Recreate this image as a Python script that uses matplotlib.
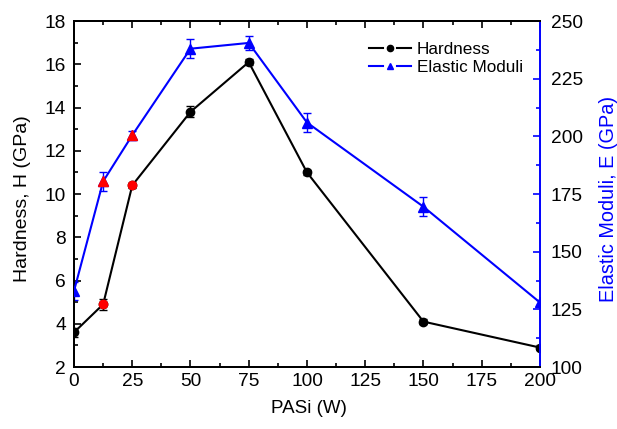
import matplotlib
matplotlib.use("Agg")
import matplotlib.pyplot as plt
from matplotlib.lines import Line2D
from matplotlib.legend_handler import HandlerBase
from matplotlib.ticker import MultipleLocator

plt.rcParams['font.family'] = ['Liberation Sans', 'DejaVu Sans']

power = [0, 12.5, 25, 50, 75, 100, 150, 200]
hardness = [3.6, 4.9, 10.4, 13.8, 16.1, 11.0, 4.1, 2.9]
hardness_err = [0.2, 0.25, 0.1, 0.25, 0.15, 0.1, 0.12, 0.1]
modulus = [133, 180.5, 200.5, 238, 240.5, 206, 169.5, 128]
modulus_err = [4, 4, 2, 4, 3, 4, 4, 1]
highlight = [12.5, 25]

fig = plt.figure(figsize=(6.17, 4.29), dpi=100)
ax = fig.add_axes([0.12, 0.1445, 0.755, 0.8065])
ax2 = ax.twinx()

h_line, = ax.plot(power, hardness, '-', color='black', lw=1.5, marker='o',
                  ms=6, zorder=3, label='Hardness')
ax.errorbar(power, hardness, yerr=hardness_err, fmt='none', ecolor='black',
            elinewidth=1.0, capsize=3, capthick=1.0, zorder=2)
e_line, = ax2.plot(power, modulus, '-', color='blue', lw=1.5, marker='^',
                   ms=7, zorder=3, label='Elastic Moduli')
ax2.errorbar(power, modulus, yerr=modulus_err, fmt='none', ecolor='blue',
             elinewidth=1.0, capsize=3, capthick=1.0, zorder=2)

# red markers for the highlighted power settings
hx = [p for p in power if p in highlight]
ax.plot(hx, [h for p, h in zip(power, hardness) if p in highlight], 'o',
        color='red', ms=6, zorder=4)
ax2.plot(hx, [m for p, m in zip(power, modulus) if p in highlight], '^',
         color='red', ms=7, zorder=4)

ax.set_xlim(0, 200)
ax.set_ylim(2, 18)
ax2.set_ylim(100, 250)

ax.xaxis.set_major_locator(MultipleLocator(25))
ax.xaxis.set_minor_locator(MultipleLocator(12.5))
ax.yaxis.set_major_locator(MultipleLocator(2))
ax.yaxis.set_minor_locator(MultipleLocator(1))
ax2.yaxis.set_major_locator(MultipleLocator(25))
ax2.yaxis.set_minor_locator(MultipleLocator(12.5))

ax.tick_params(axis='both', which='both', direction='in', labelsize=13.8,
               top=True, width=1.2)
ax.tick_params(axis='both', which='major', length=5)
ax.tick_params(axis='both', which='minor', length=3)
ax.tick_params(axis='x', which='major', pad=4)
ax.tick_params(axis='y', which='both', right=False, pad=6)
ax2.tick_params(axis='y', which='both', direction='in', labelsize=13.8,
                color='blue', width=1.2, labelcolor='black', pad=8)
ax2.tick_params(axis='y', which='major', length=5)
ax2.tick_params(axis='y', which='minor', length=3)

for s in ('left', 'bottom', 'top'):
    ax.spines[s].set_linewidth(1.4)
    ax2.spines[s].set_linewidth(1.4)
ax2.spines['right'].set_color('blue')
ax2.spines['right'].set_linewidth(1.4)
ax.spines['right'].set_visible(False)

ax.set_xlabel('PASi (W)', fontsize=13.5)
ax.set_ylabel('Hardness, H (GPa)', fontsize=14)
ax2.set_ylabel('Elastic Moduli, E (GPa)', fontsize=14.3, color='blue')
ax.xaxis.label.set_va('center')
ax.yaxis.label.set_va('center')
ax2.yaxis.label.set_va('center')
ax.xaxis.set_label_coords(0.505, -0.1185)
ax.yaxis.set_label_coords(-0.1116, 0.486)
ax2.yaxis.set_label_coords(1.148, 0.485)


class BrokenLineHandler(HandlerBase):
    """Legend key: two short line pieces with a small marker between them."""

    def create_artists(self, legend, orig_handle, xdescent, ydescent,
                       width, height, fontsize, trans):
        color = orig_handle.get_color()
        marker = orig_handle.get_marker()
        y = height / 2 - ydescent
        x0 = -xdescent
        x1 = x0 + width
        xm = (x0 + x1) / 2
        gap = width * 0.17
        left = Line2D([x0, xm - gap], [y, y], color=color, lw=1.5,
                      transform=trans)
        right = Line2D([xm + gap, x1], [y, y], color=color, lw=1.5,
                       transform=trans)
        mk = Line2D([xm], [y], ls='none', marker=marker, ms=4.5,
                    color=color, transform=trans)
        return [left, right, mk]


ax2.legend(handles=[h_line, e_line],
           handler_map={Line2D: BrokenLineHandler()},
           loc='upper left', bbox_to_anchor=(0.6, 0.985),
           frameon=False, fontsize=12.3, handlelength=2.45,
           handletextpad=0.35, labelspacing=0.2)

fig.savefig('out.png', dpi=100)
